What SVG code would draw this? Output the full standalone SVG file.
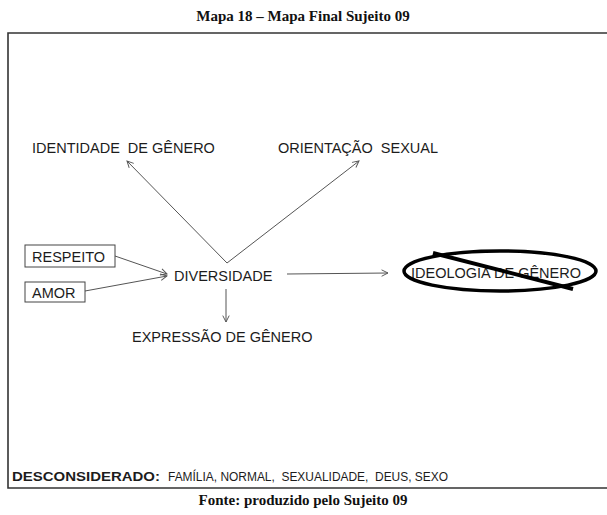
<svg xmlns="http://www.w3.org/2000/svg" width="607" height="515" viewBox="0 0 607 515">
<defs>
<style>
.cap{font-family:"Liberation Serif","Times New Roman",serif;font-weight:bold;font-size:15px;fill:#111;text-anchor:middle}
.lbl{font-family:"Liberation Sans",Arial,sans-serif;font-size:14.5px;fill:#1c1c1c}
.box{fill:#fff;stroke:#444;stroke-width:1}
.con{stroke:#555;stroke-width:1;fill:none}
</style>
<marker id="arr" viewBox="0 0 10 10" refX="9" refY="5" markerWidth="8" markerHeight="8" markerUnits="userSpaceOnUse" orient="auto">
<path d="M1,1 L9,5 L1,9" fill="none" stroke="#555" stroke-width="1.2"/>
</marker>
</defs>
<rect width="607" height="515" fill="#fff"/>
<text class="cap" x="303" y="21">Mapa 18 – Mapa Final Sujeito 09</text>
<path d="M610,33 H8 V488 H610" fill="none" stroke="#333" stroke-width="1.6"/>

<g id="connectors">
<line class="con" x1="227" y1="263" x2="127" y2="161" marker-end="url(#arr)"/>
<line class="con" x1="227" y1="263" x2="359" y2="161" marker-end="url(#arr)"/>
<line class="con" x1="115" y1="256" x2="167" y2="274" marker-end="url(#arr)"/>
<line class="con" x1="85" y1="291" x2="167" y2="276" marker-end="url(#arr)"/>
<line class="con" x1="287" y1="274" x2="388" y2="273" marker-end="url(#arr)"/>
<line class="con" x1="226" y1="289" x2="226" y2="322" marker-end="url(#arr)"/>
</g>

<g id="identidade"><text class="lbl" x="32" y="153" xml:space="preserve">IDENTIDADE  DE GÊNERO</text></g>
<g id="orientacao"><text class="lbl" x="278" y="153" xml:space="preserve">ORIENTAÇÃO  SEXUAL</text></g>
<g id="respeito"><rect class="box" x="25" y="245" width="90" height="22"/><text class="lbl" x="32" y="262">RESPEITO</text></g>
<g id="amor"><rect class="box" x="25" y="282" width="60" height="20"/><text class="lbl" x="32" y="298">AMOR</text></g>
<g id="diversidade"><text class="lbl" x="174" y="281">DIVERSIDADE</text></g>
<g id="expressao"><text class="lbl" x="132" y="342">EXPRESSÃO DE GÊNERO</text></g>
<g id="ideologia">
<text class="lbl" x="411" y="278">IDEOLOGIA DE GÊNERO</text>
<ellipse cx="500" cy="271" rx="96" ry="20" fill="none" stroke="#000" stroke-width="3.5"/>
<line x1="433" y1="253" x2="573" y2="289" stroke="#000" stroke-width="4"/>
</g>
<g id="desconsiderado">
<text x="12" y="481" font-family="Liberation Sans,Arial,sans-serif" font-size="13" fill="#1c1c1c" xml:space="preserve"><tspan font-weight="bold" textLength="148" lengthAdjust="spacingAndGlyphs">DESCONSIDERADO:</tspan><tspan x="168" font-size="12" textLength="280" lengthAdjust="spacingAndGlyphs">FAMÍLIA, NORMAL,  SEXUALIDADE,  DEUS, SEXO</tspan></text>
</g>
<text class="cap" x="303" y="505">Fonte: produzido pelo Sujeito 09</text>
</svg>
